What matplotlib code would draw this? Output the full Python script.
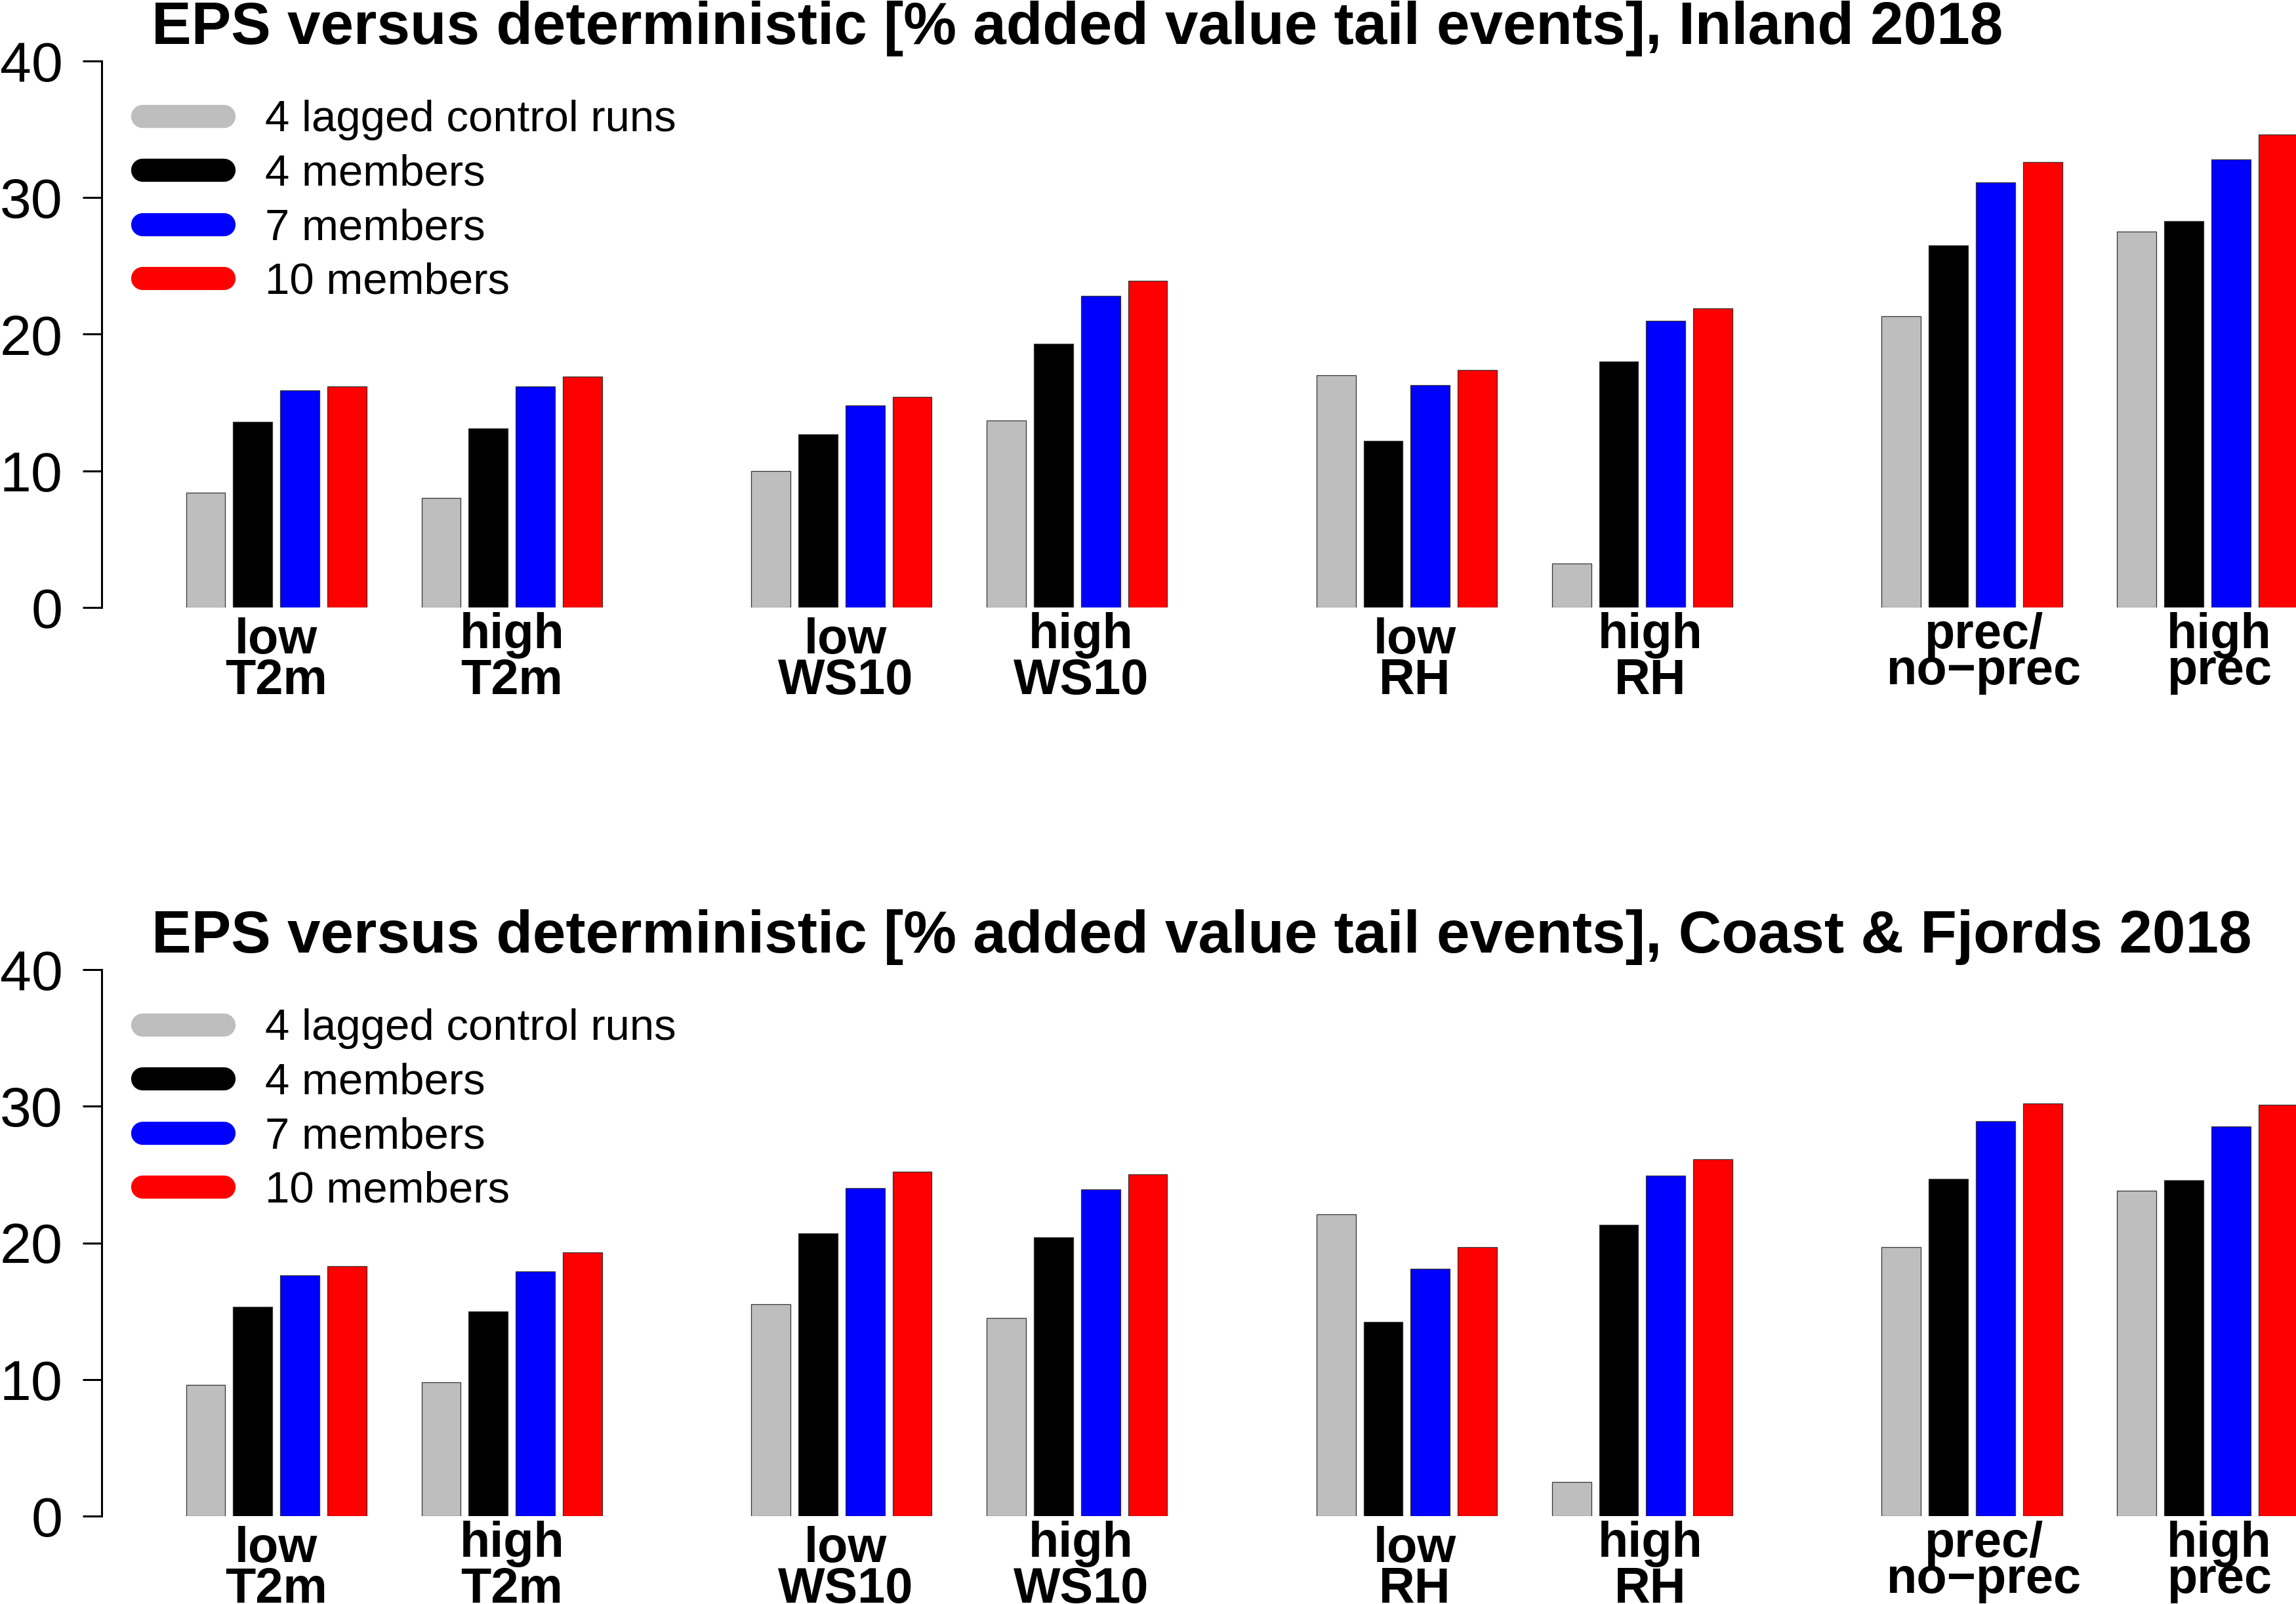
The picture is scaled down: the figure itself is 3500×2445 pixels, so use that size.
import matplotlib
matplotlib.use("Agg")
import matplotlib.pyplot as plt
import matplotlib.transforms as mtrans
import numpy as np

# ---------------- data ----------------
series_names = ["4 lagged control runs", "4 members", "7 members", "10 members"]
series_colors = ["#BEBEBE", "#000000", "#0000FF", "#FF0000"]

label_line1 = ["low", "high", "low", "high", "low", "high", "prec/", "high"]
label_line2 = ["T2m", "T2m", "WS10", "WS10", "RH", "RH", "no\u2212prec", "prec"]

titles = [
    "EPS versus deterministic [% added value tail events], Inland 2018",
    "EPS versus deterministic [% added value tail events], Coast & Fjords 2018",
]

# rows: categories, columns: series (lagged, 4, 7, 10)
inland_lagged = [8.4, 8.0, 10.0, 13.7, 17.0, 3.2, 21.3, 27.5]
inland_4m     = [13.6, 13.1, 12.7, 19.3, 12.2, 18.0, 26.5, 28.3]
inland_7m     = [15.9, 16.2, 14.8, 22.8, 16.3, 21.0, 31.1, 32.8]
inland_10m    = [16.2, 16.9, 15.4, 23.9, 17.4, 21.9, 32.6, 34.6]

coast_lagged = [9.6, 9.8, 15.5, 14.5, 22.1, 2.5, 19.7, 23.8]
coast_4m     = [15.3, 15.0, 20.7, 20.4, 14.2, 21.3, 24.7, 24.6]
coast_7m     = [17.6, 17.9, 24.0, 23.9, 18.1, 24.9, 28.9, 28.5]
coast_10m    = [18.3, 19.3, 25.2, 25.0, 19.7, 26.1, 30.2, 30.1]

panels = [
    [inland_lagged, inland_4m, inland_7m, inland_10m],
    [coast_lagged, coast_4m, coast_7m, coast_10m],
]

yticks = [0, 10, 20, 30, 40]

# ---------------- layout ----------------
W, H = 3500, 2445
DPI = 100
FONT = "Liberation Sans"
plt.rcParams["font.family"] = [FONT, "DejaVu Sans"]

fig = plt.figure(figsize=(W / DPI, H / DPI), dpi=DPI)

def fx(px):
    return px / W

def fy(py):
    return 1 - py / H

group_offsets = [0, 5, 12, 17, 24, 29, 36, 41]   # in bar-pitch units
bar_w = 0.833
pitch_px = 71.8
first_bar_px = 283.6
axis_px = 155.0
x_left = (axis_px - first_bar_px) / pitch_px
x_right = x_left + (W - axis_px) / pitch_px
label_drift = 0.084   # labels drift slightly right per pair of groups

panel_y0 = [926.0, 2311.0]    # pixel row of value 0
panel_y40 = [93.0, 1478.0]    # pixel row of value 40

def has_desc(s):
    return any(c in "gjpqy" for c in s)

for p, data in enumerate(panels):
    y0, y40 = panel_y0[p], panel_y40[p]
    ax = fig.add_axes([fx(axis_px), fy(y0), 1 - fx(axis_px), (y0 - y40) / H])
    ax.set_xlim(x_left, x_right)
    ax.set_ylim(0, 40)
    ax.patch.set_alpha(0)

    for s, vals in enumerate(data):
        xs = np.array(group_offsets) + s
        ax.bar(xs, vals, width=bar_w, align="edge", color=series_colors[s],
               edgecolor="#333333", linewidth=0.9, zorder=2)

    for sp in ["top", "right", "bottom"]:
        ax.spines[sp].set_visible(False)
    ax.spines["left"].set_bounds(0, 40)
    ax.spines["left"].set_linewidth(2.2)
    ax.set_xticks([])
    ax.set_yticks(yticks)
    ax.set_yticklabels([str(t) for t in yticks])
    ax.tick_params(axis="y", length=20.9, width=2.2, pad=22, labelsize=62)
    for lab in ax.get_yticklabels():
        lab.set_fontfamily(FONT)

    # category labels
    trans = mtrans.blended_transform_factory(ax.transData, fig.transFigure)
    for g, (l1, l2) in enumerate(zip(label_line1, label_line2)):
        xc = group_offsets[g] + (3 + bar_w) / 2 + (g // 2) * label_drift
        b1 = y0 + (62 if has_desc(l1) else 70)
        b2 = y0 + (117 if has_desc(l2) else 132)
        ax.text(xc, fy(b1), l1, transform=trans, ha="center", va="baseline",
                fontsize=54.5, fontweight="bold", family=FONT, clip_on=False)
        ax.text(xc, fy(b2), l2, transform=trans, ha="center", va="baseline",
                fontsize=54.5, fontweight="bold", family=FONT, clip_on=False)

    # title
    fig.text(fx(231), fy(y40 - 26.3), titles[p], ha="left", va="baseline",
             fontsize=65.4, fontweight="bold", family=FONT)

    # legend (drawn manually)
    for i, (name, col) in enumerate(zip(series_names, series_colors)):
        yc = y40 + 83.5 + i * 82.6
        fig.add_artist(plt.Line2D([fx(216.5), fx(340.5)], [fy(yc), fy(yc)],
                                  transform=fig.transFigure, color=col,
                                  linewidth=25.4, solid_capstyle="round"))
        fig.text(fx(404), fy(yc + 23.5), name, ha="left", va="baseline",
                 fontsize=48.3, family=FONT)

fig.savefig("out.png", dpi=DPI)
